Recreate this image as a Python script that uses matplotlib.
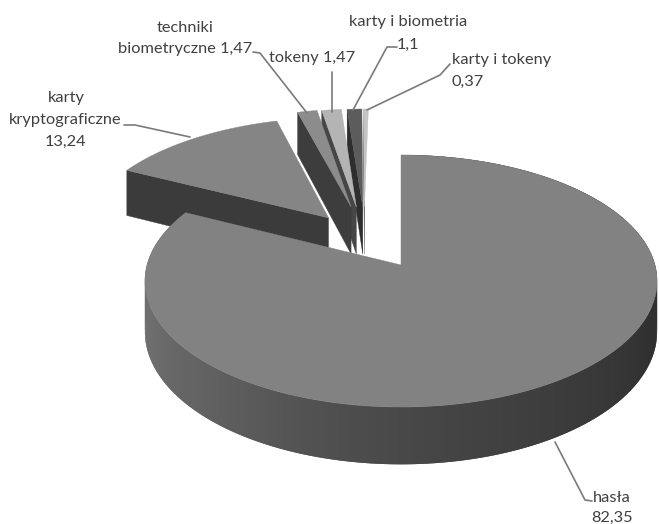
import numpy as np
import matplotlib
matplotlib.use("Agg")
import matplotlib.pyplot as plt

# udzial metod uwierzytelniania [%]
names = ["hasła", "karty kryptograficzne", "techniki biometryczne", "tokeny", "karty i biometria", "karty i tokeny"]
values = [82.35, 13.24, 1.47, 1.47, 1.10, 0.37]

top_colors = ["#828282", "#858585", "#8c8c8c", "#b4b4b4", "#5c5c5c", "#c4c4c4"]
side_colors = ["#3a3a3a", "#3b3b3b", "#3d3d3d", "#464646", "#2e2e2e", "#555555"]
# przesuniecie wycinkow wzgledem srodka (os x, os glebokosci)
explode = [(0, 0), (-0.30, 0.40), (-0.209, 0.4975), (-0.187, 0.4975), (-0.16, 0.4975), (-0.153, 0.4975)]

# parametry rzutu perspektywicznego
X0, Y0 = 401, 265
RX, RY = 254, 124
K = 0.127
THICK = 50


def project(u, v, z=0):
    f = 1 + K * v
    return X0 + RX * u / f, Y0 - RY * v / f + THICK * z / f


def slice_points(a0, a1, off, z=0):
    t = np.radians(np.linspace(a0, a1, max(int(a1 - a0) * 2, 4)))
    u = np.sin(t) + off[0]
    v = np.cos(t) + off[1]
    return project(u, v, z)


fig = plt.figure(figsize=(6.59, 5.24), dpi=100)
ax = fig.add_axes([0, 0, 1, 1])
ax.set_xlim(0, 659)
ax.set_ylim(524, 0)
ax.axis("off")

total = sum(values)
edges = np.concatenate([[0], np.cumsum(values)]) / total * 360


def side_shade(angle):
    # bok glownego wycinka jasnieje w lewo
    c = np.interp(angle, [0, 110, 171, 192, 217, 248, 296], [0.19, 0.19, 0.27, 0.31, 0.37, 0.43, 0.46])
    return (c, c, c)


def i_z(i):
    # glowny wycinek przykrywa pozostale
    return {0: 20, 1: 10}.get(i, 5 - 0.1 * i)


def draw_slice(i):
    a0, a1 = edges[i], edges[i + 1]
    off = explode[i]
    if i == 0:
        # bok zewnetrzny; paski zachodza na siebie, zeby nie bylo szwow
        for a in np.arange(a1 - 1.0, a0 - 1.0, -1.0):
            b = min(a + 2.0, a1)
            xt, yt = slice_points(max(a, a0), b, off)
            xb, yb = slice_points(max(a, a0), b, off, 1)
            ax.fill(np.r_[xt, xb[::-1]], np.r_[yt, yb[::-1]], color=side_shade(a), lw=0, zorder=i_z(i))
    else:
        # sciana przy poczatku wycinka, widoczna z przodu
        ex, ey = project(np.sin(np.radians(a0)) + off[0], np.cos(np.radians(a0)) + off[1])
        ex2, ey2 = project(np.sin(np.radians(a0)) + off[0], np.cos(np.radians(a0)) + off[1], 1)
        ax2, ay2 = project(off[0], off[1], 1)
        ax1, ay1 = project(off[0], off[1])
        ax.fill([ax1, ex, ex2, ax2], [ay1, ey, ey2, ay2], color=side_colors[i], lw=0.3, zorder=i_z(i))
    x, y = slice_points(a0, a1, off)
    ax1, ay1 = project(off[0], off[1])
    ax.fill(np.r_[ax1, x], np.r_[ay1, y], color=top_colors[i], lw=0.3, zorder=i_z(i) + 0.5)


for i in range(len(values)):
    draw_slice(i)

line_color = "#7a7a7a"
leaders = [
    ([555, 442, 585, 500, 592, 501]),
    ([124, 125, 135, 125, 190, 137]),
    ([253, 52, 260, 53, 307, 113]),
    ([332, 72, 332, 112]),
    ([353, 110, 387, 47, 397, 47]),
    ([367, 110, 440, 75, 450, 64]),
]
for pts in leaders:
    ax.plot(pts[0::2], pts[1::2], color=line_color, lw=1.2, zorder=30, solid_capstyle="round")

font = dict(family="Lato", fontsize=11.8, color="#404040", ha="center", va="center", zorder=31)
ax.text(612, 498, "hasła", **font)
ax.text(612, 518, "82,35", **font)
ax.text(66, 98, "karty", **font)
ax.text(65, 120, "kryptograficzne", **font)
ax.text(66, 142, "13,24", **font)
ax.text(185, 28, "techniki", **font)
ax.text(185, 49, "biometryczne 1,47", **font)
ax.text(312, 58, "tokeny 1,47", **font)
ax.text(408, 22, "karty i biometria", **font)
ax.text(408, 45, "1,1", **font)
ax.text(502, 60, "karty i tokeny", **font)
ax.text(468, 82, "0,37", **font)

fig.savefig("out.png", dpi=100)
